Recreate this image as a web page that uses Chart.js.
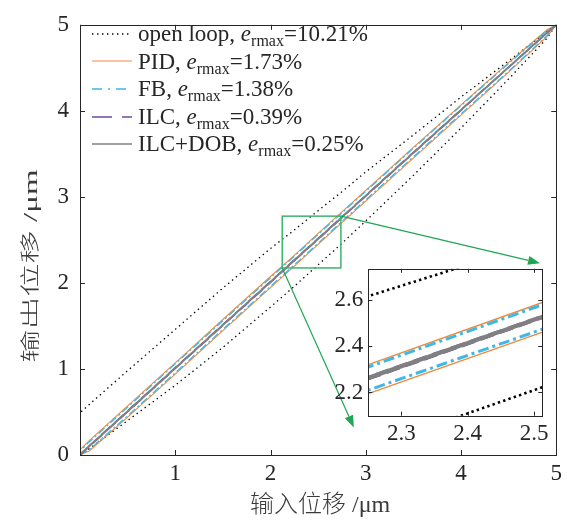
<!DOCTYPE html>
<html>
<head>
<meta charset="utf-8">
<script src="https://cdn.jsdelivr.net/npm/chart.js@4/dist/chart.umd.min.js"></script>
<style>
  body { margin: 0; background: #fff; }
  #wrap { position: relative; width: 567px; height: 522px; }
  #main { position: absolute; left: 0; top: 0; }
  #inset { position: absolute; left: 320px; top: 250px; }
  #legend { position: absolute; left: 92px; top: 20px; color: #262626;
    font: 23px 'Liberation Serif', 'Noto Sans CJK SC', serif; }
  .row { display: flex; align-items: center; height: 27.6px; line-height: 27.6px; white-space: nowrap; }
  .row svg { width: 40px; height: 10px; margin-right: 6px; }
  .sub { font-size: 16px; position: relative; top: 5px; line-height: 0; }
</style>
</head>
<body>
<div id="wrap">
  <canvas id="main" width="567" height="522"></canvas>
  <canvas id="inset" width="235" height="200"></canvas>
  <div id="legend"></div>
</div>
<script>
// input displacement grid (um), shared by every branch below
const xGrid = [0, 0.1, 0.5, 1, 1.5, 2, 2.25, 2.5, 2.75, 3, 3.5, 4, 4.5, 4.9, 5];

// output displacement: ascending (lower) and descending (upper) branches
const openLoopAsc  = [0, 0.075, 0.40, 0.81, 1.25, 1.72, 1.96, 2.21, 2.46, 2.72, 3.25, 3.80, 4.37, 4.84, 5];
const openLoopDesc = [0.49, 0.59, 0.98, 1.46, 1.94, 2.40, 2.615, 2.84, 3.06, 3.29, 3.72, 4.16, 4.58, 4.92, 5];
const pidAsc  = [0, 0.05, 0.44, 0.94, 1.445, 1.945, 2.195, 2.447, 2.70, 2.95, 3.45, 3.95, 4.45, 4.86, 5];
const pidDesc = [0.06, 0.17, 0.57, 1.07, 1.575, 2.075, 2.32, 2.575, 2.825, 3.075, 3.575, 4.07, 4.56, 4.94, 5];
const fbAsc  = [0, 0.065, 0.455, 0.955, 1.46, 1.96, 2.21, 2.46, 2.715, 2.965, 3.465, 3.965, 4.46, 4.87, 5];
const fbDesc = [0.045, 0.155, 0.555, 1.06, 1.56, 2.06, 2.31, 2.565, 2.815, 3.065, 3.565, 4.06, 4.55, 4.93, 5];
const ilcAsc  = [0, 0.1, 0.503, 1.005, 1.505, 2.006, 2.257, 2.508, 2.758, 3.008, 3.508, 4.006, 4.504, 4.902, 5];
const ilcDesc = [0.01, 0.11, 0.513, 1.015, 1.516, 2.017, 2.268, 2.518, 2.768, 3.018, 3.518, 4.014, 4.51, 4.906, 5];
const dobAsc  = [0, 0.102, 0.505, 1.007, 1.508, 2.008, 2.259, 2.510, 2.760, 3.010, 3.510, 4.008, 4.505, 4.903, 5];
const dobDesc = [0.008, 0.108, 0.511, 1.013, 1.514, 2.015, 2.266, 2.516, 2.766, 3.016, 3.516, 4.012, 4.509, 4.905, 5];

const seriesNames = ['open loop', 'PID', 'FB', 'ILC', 'ILC+DOB'];
const errMax = ['10.21%', '1.73%', '1.38%', '0.39%', '0.25%'];

const xTicksMain = [0, 1, 2, 3, 4, 5];
const yTicksMain = [0, 1, 2, 3, 4, 5];
const xTicksInset = [2.3, 2.4, 2.5];
const yTicksInset = [2.2, 2.4, 2.6];

// zoom marker and arrow tips, in data units of the main axes
const zoomBox = { x0: 2.123, x1: 2.739, y0: 2.174, y1: 2.776 };
const arrowTips = [{ x: 4.83, y: 2.23 }, { x: 2.875, y: 0.32 }];

const axisColor = '#262626';
const fontFam = "'Liberation Serif', 'Noto Sans CJK SC', serif";

const styles = [
  { color: '#000000', main: { w: 1.3, dash: [1.4, 3.6] }, inset: { w: 2.6, dash: [2.4, 3.2] } },
  { color: '#F08A3C', main: { w: 1.1, dash: [] }, inset: { w: 1.4, dash: [] } },
  { color: '#3DB8E8', main: { w: 1.3, dash: [8, 3, 2, 3] }, inset: { w: 3, dash: [11, 4, 3, 4] } },
  { color: '#6F4C9B', main: { w: 1.5, dash: [12, 6] }, inset: { w: 2.2, dash: [14, 6] } },
  { color: '#808080', main: { w: 1.6, dash: [] }, inset: { w: 2.8, dash: [] } },
];

function loop(asc, desc) {
  const up = xGrid.map((x, i) => ({ x, y: asc[i] }));
  const down = xGrid.map((x, i) => ({ x, y: desc[i] })).reverse();
  return up.concat(down);
}

const loops = [
  loop(openLoopAsc, openLoopDesc),
  loop(pidAsc, pidDesc),
  loop(fbAsc, fbDesc),
  loop(ilcAsc, ilcDesc),
  loop(dobAsc, dobDesc),
];

function makeDatasets(kind) {
  return loops.map((pts, i) => ({
    label: seriesNames[i],
    data: pts,
    showLine: true,
    pointRadius: 0,
    borderColor: styles[i].color,
    borderWidth: styles[i][kind].w,
    borderDash: styles[i][kind].dash,
    fill: false,
    tension: 0,
    order: loops.length - i,
  }));
}

function line(ctx, x0, y0, x1, y1) {
  ctx.beginPath();
  ctx.moveTo(x0, y0);
  ctx.lineTo(x1, y1);
  ctx.stroke();
}

function drawFrame(chart, xt, yt, len) {
  const { ctx, chartArea: a, scales } = chart;
  ctx.save();
  ctx.strokeStyle = axisColor;
  ctx.lineWidth = 1;
  ctx.strokeRect(Math.round(a.left) + 0.5, Math.round(a.top) + 0.5,
    Math.round(a.right) - Math.round(a.left), Math.round(a.bottom) - Math.round(a.top));
  xt.forEach(v => {
    const px = Math.round(scales.x.getPixelForValue(v)) + 0.5;
    line(ctx, px, a.bottom, px, a.bottom - len);
    line(ctx, px, a.top, px, a.top + len);
  });
  yt.forEach(v => {
    const py = Math.round(scales.y.getPixelForValue(v)) + 0.5;
    line(ctx, a.left, py, a.left + len, py);
    line(ctx, a.right, py, a.right - len, py);
  });
  ctx.restore();
}

function arrow(ctx, x0, y0, x1, y1) {
  const ang = Math.atan2(y1 - y0, x1 - x0);
  const L = 12, W = 4.5;
  const bx = x1 - L * Math.cos(ang), by = y1 - L * Math.sin(ang);
  line(ctx, x0, y0, bx, by);
  ctx.beginPath();
  ctx.moveTo(x1, y1);
  ctx.lineTo(bx + W * Math.sin(ang), by - W * Math.cos(ang));
  ctx.lineTo(bx - W * Math.sin(ang), by + W * Math.cos(ang));
  ctx.closePath();
  ctx.fill();
}

const mainDecor = {
  id: 'mainDecor',
  afterDraw(chart) {
    const { ctx, chartArea: a, scales: { x, y } } = chart;
    drawFrame(chart, xTicksMain, yTicksMain, 5);
    ctx.save();
    // zoom marker
    const bx0 = x.getPixelForValue(zoomBox.x0), bx1 = x.getPixelForValue(zoomBox.x1);
    const by0 = y.getPixelForValue(zoomBox.y0), by1 = y.getPixelForValue(zoomBox.y1);
    ctx.strokeStyle = '#3DB46D';
    ctx.lineWidth = 1.5;
    ctx.strokeRect(bx0, by1, bx1 - bx0, by0 - by1);
    ctx.strokeStyle = '#1FA653';
    ctx.fillStyle = '#1FA653';
    ctx.lineWidth = 1.2;
    arrow(ctx, bx1, by1, x.getPixelForValue(arrowTips[0].x), y.getPixelForValue(arrowTips[0].y));
    arrow(ctx, bx0, by0, x.getPixelForValue(arrowTips[1].x), y.getPixelForValue(arrowTips[1].y));
    // axis titles (the y title is stretched along its length as in the original)
    ctx.fillStyle = '#3a3a3a';
    ctx.font = '300 24px ' + fontFam;
    ctx.textAlign = 'center';
    ctx.textBaseline = 'middle';
    ctx.fillText('输入位移 /μm', (a.left + a.right) / 2 + 2, 506);
    ctx.translate(32, 266);
    ctx.rotate(-Math.PI / 2);
    ctx.scale(1.38, 0.8);
    ctx.fillText('输出位移 /μm', 0, 0);
    ctx.restore();
  },
};

const insetDecor = {
  id: 'insetDecor',
  beforeDatasetsDraw(chart) {
    const { ctx, chartArea: a } = chart;
    ctx.save();
    ctx.fillStyle = '#fff';
    ctx.fillRect(a.left, a.top, a.width, a.height);
    ctx.restore();
  },
  afterDraw(chart) {
    drawFrame(chart, xTicksInset, yTicksInset, 4);
  },
};

function scale(min, max, ticks, fit, pad, fmt) {
  return {
    type: 'linear',
    min, max,
    afterBuildTicks: s => { s.ticks = ticks.map(v => ({ value: v })); },
    afterFit: fit,
    grid: { display: false, drawTicks: false },
    border: { display: false },
    ticks: {
      padding: pad,
      color: axisColor,
      font: { family: fontFam, size: 23 },
      maxRotation: 0,
      callback: fmt,
    },
  };
}

new Chart(document.getElementById('main'), {
  type: 'scatter',
  data: { datasets: makeDatasets('main') },
  options: {
    responsive: false,
    devicePixelRatio: 1,
    animation: false,
    layout: { padding: { top: 14, right: 10, left: 0, bottom: 0 } },
    plugins: { legend: { display: false }, tooltip: { enabled: false } },
    scales: {
      x: scale(0, 5, xTicksMain, s => { s.height = 67; }, 5, v => (v === 0 ? null : String(v))),
      y: scale(0, 5, yTicksMain, s => { s.width = 80; }, 11, v => String(v)),
    },
  },
  plugins: [mainDecor],
});

new Chart(document.getElementById('inset'), {
  type: 'scatter',
  data: { datasets: makeDatasets('inset') },
  options: {
    responsive: false,
    devicePixelRatio: 1,
    animation: false,
    layout: { padding: { top: 15, right: 12.7, left: 0, bottom: 0 } },
    plugins: { legend: { display: false }, tooltip: { enabled: false } },
    scales: {
      x: scale(2.25, 2.5125, xTicksInset, s => { s.height = 34.3; }, 4, v => v.toFixed(1)),
      y: scale(2.1, 2.733, yTicksInset, s => { s.width = 48.3; }, 5, v => v.toFixed(1)),
    },
  },
  plugins: [insetDecor],
});

// legend with italic e and subscript
const legend = document.getElementById('legend');
seriesNames.forEach((name, i) => {
  const st = styles[i];
  const dash = st.main.dash.length ? st.main.dash.join(' ') : 'none';
  const legDash = i === 3 ? '20 10' : (i === 2 ? '10 6 2 6' : dash);
  const row = document.createElement('div');
  row.className = 'row';
  row.innerHTML =
    `<svg viewBox="0 0 40 10"><line x1="0" y1="5" x2="40" y2="5" stroke="${st.color}" ` +
    `stroke-width="${st.main.w}" stroke-dasharray="${legDash}"/></svg>` +
    `<span>${name}, <i>e</i><span class="sub">rmax</span>=${errMax[i]}</span>`;
  legend.appendChild(row);
});
</script>
</body>
</html>
